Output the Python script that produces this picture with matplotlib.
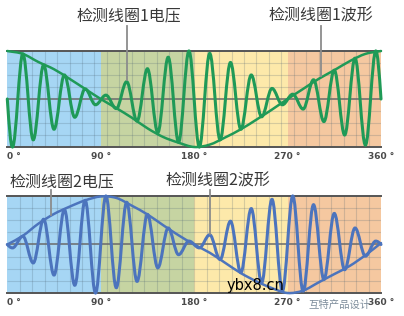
import numpy as np
import matplotlib
matplotlib.use("Agg")
import matplotlib.pyplot as plt
from matplotlib.path import Path
from matplotlib.patches import PathPatch

# ---------------- data ----------------
tick_angles = [0, 90, 180, 270, 360]
tick_labels = ["0 °", "90 °", "180 °", "270 °", "360 °"]
band_edges = [0, 90, 180, 270, 360]
band_colors = ["#a6d6f4", "#c6d4a2", "#fde9aa", "#f5c8a0"]

label_top_left = "检测线圈1电压"
label_top_right = "检测线圈1波形"
label_bot_left = "检测线圈2电压"
label_bot_right = "检测线圈2波形"
watermark_1 = "ybx8.cn"
watermark_2 = "互特产品设计"

# envelope ("波形") curves, sampled every 15 degrees
env_angles = [0, 15, 30, 45, 60, 75, 90, 105, 120, 135, 150, 165, 180,
              195, 210, 225, 240, 255, 270, 285, 300, 315, 330, 345, 360]
env1_values = [1.0, 0.94, 0.77, 0.62, 0.42, 0.21, 0.0, -0.19, -0.39, -0.61, -0.79, -0.91, -1.0,
               -0.95, -0.80, -0.63, -0.43, -0.22, 0.0, 0.21, 0.42, 0.60, 0.79, 0.94, 1.0]
env2_values = [0.0, 0.18, 0.43, 0.63, 0.78, 0.91, 0.99, 0.96, 0.80, 0.62, 0.40, 0.19, 0.0,
               -0.17, -0.38, -0.59, -0.76, -0.90, -1.0, -0.95, -0.78, -0.61, -0.44, -0.22, 0.03]

# voltage ("电压") waveforms: start, successive extrema, end
wave_angles = [0, 5, 15, 25, 35, 45, 55, 65, 75, 85, 95, 105, 115, 125, 135, 145, 155, 165, 175,
               185, 195, 205, 215, 225, 235, 245, 255, 265, 275, 285, 295, 305, 315, 325, 335,
               345, 355, 360]
wave1_values = [0.0, -1.0, 0.94, -0.85, 0.71, -0.63, 0.50, -0.38, 0.21, -0.12, 0.08, -0.20, 0.36,
                -0.46, 0.63, -0.70, 0.87, -0.90, 1.0, -1.0, 0.95, -0.85, 0.76, -0.63, 0.50, -0.37,
                0.22, -0.12, 0.10, -0.21, 0.40, -0.47, 0.60, -0.75, 0.85, -0.96, 1.0, 0.0]
wave2_values = [0.0, -0.07, 0.17, -0.38, 0.52, -0.63, 0.72, -0.84, 0.91, -1.0, 1.0, -0.89, 0.87,
                -0.76, 0.62, -0.48, 0.34, -0.21, 0.07, -0.07, 0.20, -0.31, 0.48, -0.58, 0.74, -0.79,
                0.93, -0.96, 1.0, -0.96, 0.82, -0.72, 0.64, -0.52, 0.34, -0.24, 0.07, 0.0]

# ---------------- helpers ----------------
def bezier_path(xs, ys, extrema):
    xs = np.asarray(xs, float)
    ys = np.asarray(ys, float)
    n = len(xs)
    m = np.zeros(n)
    for i in range(n):
        if i == 0:
            s = (ys[1] - ys[0]) / (xs[1] - xs[0])
            m[i] = 1.57 * s if extrema else s
        elif i == n - 1:
            s = (ys[-1] - ys[-2]) / (xs[-1] - xs[-2])
            m[i] = 1.57 * s if extrema else s
        else:
            m[i] = 0.0 if extrema else (ys[i + 1] - ys[i - 1]) / (xs[i + 1] - xs[i - 1])
    verts = [(xs[0], ys[0])]
    codes = [Path.MOVETO]
    k = 0.36 if extrema else 1 / 3
    for i in range(n - 1):
        dx = xs[i + 1] - xs[i]
        verts += [(xs[i] + k * dx, ys[i] + m[i] * k * dx),
                  (xs[i + 1] - k * dx, ys[i + 1] - m[i + 1] * k * dx),
                  (xs[i + 1], ys[i + 1])]
        codes += [Path.CURVE4] * 3
    return Path(verts, codes)


def setup_axes(ax):
    for i, c in enumerate(band_colors):
        ax.axvspan(band_edges[i], band_edges[i + 1], color=c, lw=0, zorder=0)
    ax.vlines(np.arange(12, 360, 12), -1, 1, color="#4a6070", alpha=0.22, lw=0.8, zorder=1)
    ax.hlines([-0.75, -0.5, -0.25, 0.25, 0.5, 0.75], 0, 360, color="#4a6070", alpha=0.22,
              lw=0.8, zorder=1)
    ax.axhline(0, color="#6a6a6a", lw=1.1, zorder=1.5)
    ax.set_xlim(0, 360)
    ax.set_ylim(-1, 1)
    ax.set_yticks([])
    ax.set_xticks(tick_angles)
    ax.set_xticklabels(tick_labels, fontsize=6.5, fontweight="bold", color="#4a4a4a",
                       family="DejaVu Sans")
    ax.get_xticklabels()[0].set_ha("left")
    ax.tick_params(axis="x", length=0, pad=3.5)
    for s in ["left", "right"]:
        ax.spines[s].set_visible(False)
    for s in ["top", "bottom"]:
        ax.spines[s].set_color("#555555")
        ax.spines[s].set_linewidth(1.4)
        ax.spines[s].set_zorder(2)


# ---------------- figure ----------------
fig = plt.figure(figsize=(4.04, 3.16), dpi=100)
fig.patch.set_facecolor("white")

ax1 = fig.add_axes([7.3 / 404, 1 - 147 / 316, (381 - 7.3) / 404, 96 / 316])
ax2 = fig.add_axes([7.3 / 404, 1 - 293 / 316, (381 - 7.3) / 404, 97 / 316])

green = "#1f9a57"
blue = "#4c74bd"

setup_axes(ax1)
ax1.add_patch(PathPatch(bezier_path(env_angles, env1_values, False), fill=False,
                        edgecolor=green, lw=1.8, zorder=3, clip_on=False, capstyle="round"))
ax1.add_patch(PathPatch(bezier_path(wave_angles, wave1_values, True), fill=False,
                        edgecolor=green, lw=2.2, zorder=3, clip_on=False, capstyle="round"))

setup_axes(ax2)
ax2.add_patch(PathPatch(bezier_path(env_angles, env2_values, False), fill=False,
                        edgecolor=blue, lw=1.8, zorder=3, clip_on=False, capstyle="round"))
ax2.add_patch(PathPatch(bezier_path(wave_angles, wave2_values, True), fill=False,
                        edgecolor=blue, lw=2.2, zorder=3, clip_on=False, capstyle="round"))

cjk = ["Noto Sans CJK SC", "DejaVu Sans"]
lab_kw = dict(fontsize=11.5, color="#383838", family=cjk, ha="center", va="center",
              fontweight="medium")
lead_kw = dict(color="#8c8c8c", lw=1.3, clip_on=False, zorder=4)

ax1.text(117, 1.73, label_top_left, **lab_kw)
ax1.plot([115, 115], [1.52, 0.39], **lead_kw)
ax1.text(302.5, 1.73, label_top_right, **lab_kw)
ax1.plot([302.5, 302.5], [1.52, 0.47], **lead_kw)

ax2.text(52.7, 1.30, label_bot_left, **lab_kw)
ax2.plot([42, 42], [1.12, 0.61], **lead_kw)
ax2.text(202.6, 1.30, label_bot_right, **lab_kw)
ax2.plot([195, 195], [1.12, 0.21], **lead_kw)

ax2.text(239.5, -0.85, watermark_1, fontsize=10.5, color="black", family="DejaVu Sans",
         ha="center", va="center", zorder=6)
ax2.text(350, -1.25, watermark_2, fontsize=7.5, color="#7f8e9c", family=cjk,
         ha="right", va="center", zorder=6, clip_on=False)

fig.savefig("out.png", dpi=100)
